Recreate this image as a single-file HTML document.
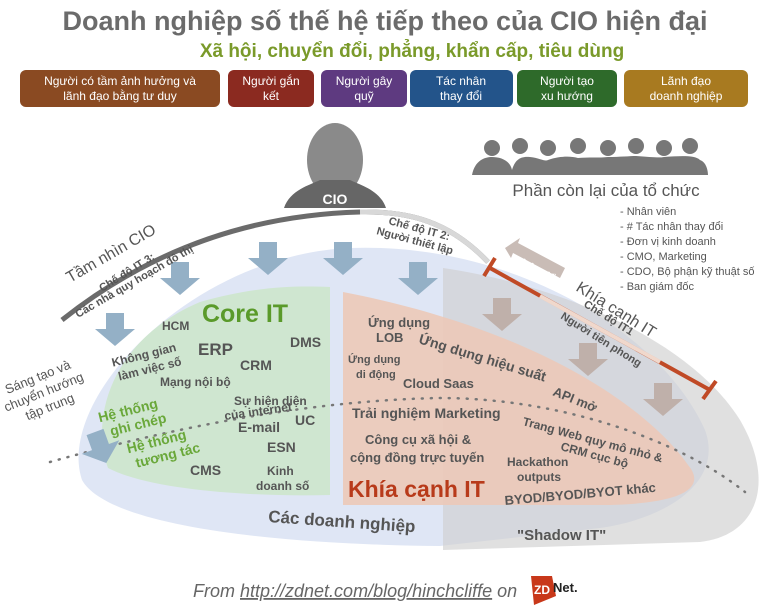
<!DOCTYPE html>
<html><head><meta charset="utf-8"><style>
body{margin:0;background:#fff;}
svg{display:block;font-family:"Liberation Sans",Arial,sans-serif;}
.b{font-weight:bold;fill:#555;}
</style></head><body>
<svg width="770" height="613" viewBox="0 0 770 613" xmlns="http://www.w3.org/2000/svg">
<defs>
<g id="arr"><path d="M-9,0 h18 v16 h11 l-20,17 -20,-17 h11 z"/></g>
</defs>
<text x="385" y="30" text-anchor="middle" font-size="27" font-weight="bold" fill="#6b6b6b">Doanh nghiệp số thế hệ tiếp theo của CIO hiện đại</text>
<text x="412" y="57" text-anchor="middle" font-size="19" font-weight="bold" fill="#7a9a2a">Xã hội, chuyển đổi, phẳng, khẩn cấp, tiêu dùng</text>
<g font-size="12" fill="#fff" text-anchor="middle">
<rect x="20" y="70" width="200" height="37" rx="6" fill="#8a4a22"/><text x="120" y="85">Người có tầm ảnh hưởng và</text><text x="120" y="100">lãnh đạo bằng tư duy</text>
<rect x="228" y="70" width="86" height="37" rx="6" fill="#8b2a20"/><text x="271" y="85">Người gắn</text><text x="271" y="100">kết</text>
<rect x="321" y="70" width="86" height="37" rx="6" fill="#5e3a80"/><text x="364" y="85">Người gây</text><text x="364" y="100">quỹ</text>
<rect x="410" y="70" width="103" height="37" rx="6" fill="#23548a"/><text x="461" y="85">Tác nhân</text><text x="461" y="100">thay đổi</text>
<rect x="517" y="70" width="100" height="37" rx="6" fill="#2e6a2a"/><text x="567" y="85">Người tạo</text><text x="567" y="100">xu hướng</text>
<rect x="624" y="70" width="124" height="37" rx="6" fill="#a87a20"/><text x="686" y="85">Lãnh đạo</text><text x="686" y="100">doanh nghiệp</text>
</g>
<ellipse cx="335" cy="160" rx="28" ry="37" fill="#8a8a8a"/>
<path d="M284,208 C290,190 310,185 320,180 L350,180 C360,185 380,190 386,208 Z" fill="#666"/>
<text x="335" y="204" text-anchor="middle" font-size="14" font-weight="bold" fill="#fff">CIO</text>
<g fill="#777">
<circle cx="492" cy="148" r="8"/><circle cx="520" cy="146" r="8"/><circle cx="548" cy="148" r="8"/><circle cx="578" cy="146" r="8"/><circle cx="608" cy="148" r="8"/><circle cx="636" cy="146" r="8"/><circle cx="664" cy="148" r="8"/><circle cx="690" cy="146" r="8"/>
<path d="M472,175 C475,160 485,157 492,157 C500,157 510,160 512,170 C515,160 520,156 530,157 C540,158 545,162 548,160 C560,156 570,156 578,158 C588,157 600,158 608,157 C620,157 630,156 636,156 C650,157 660,158 664,157 C680,156 695,155 700,160 C706,162 708,170 708,175 Z"/>
</g>
<text x="606" y="196" text-anchor="middle" font-size="17" fill="#555">Phần còn lại của tổ chức</text>
<g font-size="11" fill="#555">
<text x="620" y="215">- Nhân viên</text><text x="620" y="230">- # Tác nhân thay đổi</text><text x="620" y="245">- Đơn vị kinh doanh</text><text x="620" y="260">- CMO, Marketing</text><text x="620" y="275">- CDO, Bộ phận kỹ thuật số</text><text x="620" y="290">- Ban giám đốc</text>
</g>
<path d="M82,480 C55,400 190,255 350,248 C510,242 660,330 705,430 C725,485 660,520 600,528 L440,546 C300,545 110,530 82,480 Z" fill="#dfe6f5"/>
<path d="M443,268 C560,285 690,340 740,420 C775,480 760,535 700,542 L443,550 Z" fill="#cfcfcf" opacity="0.65"/>
<path d="M330,287 L330,495 C250,497 150,490 108,468 C90,420 110,340 200,302 C260,285 300,286 330,287 Z" fill="#cfe6d0"/>
<path d="M343,292 L343,505 L610,505 C690,503 705,485 688,465 C650,410 540,330 343,292 Z" fill="#ecc9b8" opacity="0.9"/>
<path d="M62,320 C150,250 250,215 360,212 C410,211 450,222 488,262" fill="none" stroke="#6b6b6b" stroke-width="5"/>
<path d="M360,212 C410,211 450,222 488,262" fill="none" stroke="#d8d8d8" stroke-width="5"/>
<path d="M490,268 L710,390" stroke="#c04a26" stroke-width="4"/>
<path d="M540,296 L660,362" stroke="#f0d8cc" stroke-width="4"/>
<path d="M484,276 L495,258 M703,399 L716,381" stroke="#c04a26" stroke-width="4"/>
<path d="M50,462 C200,420 330,400 440,398 C560,398 680,440 745,492" fill="none" stroke="#777" stroke-width="2.5" stroke-dasharray="1 8" stroke-linecap="round"/>
<g fill="#94b0c6">
<use href="#arr" x="115" y="313"/><use href="#arr" x="180" y="262"/><use href="#arr" x="268" y="242"/><use href="#arr" x="343" y="242"/><use href="#arr" x="418" y="262"/>
<use href="#arr" transform="translate(95,432) rotate(-20)"/>
</g>
<g fill="#bfb0aa">
<use href="#arr" x="502" y="298"/><use href="#arr" x="588" y="343"/><use href="#arr" x="663" y="383"/>
</g>
<path d="M505,248 L520,238 L518,243 L565,268 L560,278 L513,253 L511,258 Z" fill="#c9bcb6"/>
<text transform="translate(514,262) rotate(28)" font-size="11" font-weight="bold" fill="#fff">phát triển</text>
<text transform="translate(70,283) rotate(-30)" font-size="16" fill="#555">Tầm nhìn CIO</text>
<text transform="translate(102,292) rotate(-32)" font-size="11" font-weight="bold" fill="#555">Chế độ IT 3:</text>
<text transform="translate(78,318) rotate(-30)" font-size="11" font-weight="bold" fill="#555">Các nhà quy hoạch đô thị</text>
<text transform="translate(388,224) rotate(15)" font-size="11" font-weight="bold" fill="#555">Chế độ IT 2:</text>
<text transform="translate(376,234) rotate(15)" font-size="11" font-weight="bold" fill="#555">Người thiết lập</text>
<text transform="translate(575,290) rotate(32)" font-size="16" fill="#555">Khía cạnh IT</text>
<text transform="translate(583,306) rotate(32)" font-size="11" font-weight="bold" fill="#555">Chế độ IT1</text>
<text transform="translate(560,318) rotate(32)" font-size="11" font-weight="bold" fill="#555">Người tiên phong</text>
<g font-size="13" fill="#555" text-anchor="middle" transform="rotate(-22 45 395)">
<text x="45" y="380">Sáng tạo và</text><text x="45" y="396">chuyển hướng</text><text x="45" y="412">tập trung</text>
</g>
<text x="245" y="322" text-anchor="middle" font-size="25" font-weight="bold" fill="#5a9a2a">Core IT</text>
<g class="b" font-size="12">
<text x="162" y="330">HCM</text>
<text x="198" y="355" font-size="17">ERP</text>
<text x="290" y="347" font-size="14">DMS</text>
<text x="240" y="370" font-size="14">CRM</text>
<text x="160" y="386">Mạng nội bộ</text>
<text x="234" y="405" font-size="12">Sự hiện diện</text>
<text x="225" y="420" font-size="12" transform="rotate(-8 225 420)">của internet</text>
<text x="238" y="432" font-size="14">E-mail</text>
<text x="295" y="425" font-size="14">UC</text>
<text x="267" y="452" font-size="14">ESN</text>
<text x="190" y="475" font-size="14">CMS</text>
<text x="267" y="475">Kinh</text><text x="256" y="490">doanh số</text>
</g>
<g class="b" font-size="12" transform="rotate(-14 140 360)"><text x="112" y="360">Không gian</text><text x="115" y="375">làm việc số</text></g>
<g font-size="14" font-weight="bold" fill="#6aa83a" transform="rotate(-14 130 420)"><text x="100" y="415">Hệ thống</text><text x="108" y="431">ghi chép</text></g>
<g font-size="14" font-weight="bold" fill="#6aa83a" transform="rotate(-14 150 450)"><text x="128" y="448">Hệ thống</text><text x="133" y="464">tương tác</text></g>
<g class="b" font-size="12">
<text x="368" y="327" font-size="13">Ứng dụng</text><text x="376" y="342" font-size="13">LOB</text>
<text x="348" y="363" font-size="11">Ứng dụng</text><text x="356" y="378" font-size="11">di động</text>
<text x="403" y="388" font-size="13">Cloud Saas</text>
<text x="352" y="418" font-size="14">Trải nghiệm Marketing</text>
<text x="365" y="444" font-size="13">Công cụ xã hội &amp;</text>
<text x="350" y="462" font-size="13">cộng đồng trực tuyến</text>
<text x="507" y="466">Hackathon</text><text x="517" y="481">outputs</text>
</g>
<text transform="translate(418,343) rotate(17)" font-size="14" class="b">Ứng dụng hiệu suất</text>
<text transform="translate(552,395) rotate(22)" font-size="13" class="b">API mở</text>
<text transform="translate(522,425) rotate(15)" font-size="12" class="b">Trang Web quy mô nhỏ &amp;</text>
<text transform="translate(560,450) rotate(15)" font-size="12" class="b">CRM cục bộ</text>
<text transform="translate(505,505) rotate(-5)" font-size="13" class="b">BYOD/BYOD/BYOT khác</text>
<text x="348" y="497" font-size="23" font-weight="bold" fill="#b83a1a">Khía cạnh IT</text>
<text transform="translate(268,522) rotate(4)" font-size="17" class="b">Các doanh nghiệp</text>
<text x="517" y="540" font-size="15" class="b">"Shadow IT"</text>
<text x="193" y="597" font-size="18" font-style="italic" fill="#666">From <tspan text-decoration="underline">http://zdnet.com/blog/hinchcliffe</tspan> on</text>
<path d="M531,576 L552,576 L556,596 L534,605 Z" fill="#c8381a"/>
<text x="534" y="594" font-size="12" font-weight="bold" fill="#fff">ZD</text>
<text x="553" y="592" font-size="13" font-weight="bold" fill="#222">Net.</text>
</svg>
</body></html>
